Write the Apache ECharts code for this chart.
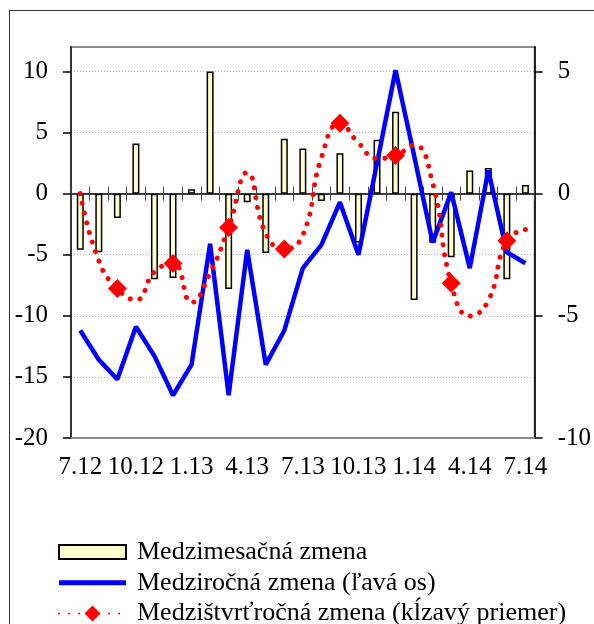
<!DOCTYPE html>
<html><head><meta charset="utf-8">
<script src="https://cdn.jsdelivr.net/npm/echarts@6/dist/echarts.min.js"></script>
<style>
html,body{margin:0;padding:0;background:#fff;overflow:hidden}
#c{width:594px;height:624px;position:absolute;left:0;top:0}
#frame{position:absolute;left:9px;top:10px;width:590px;height:620px;border-left:1px solid #333;border-top:1px solid #333;pointer-events:none}
</style>
</head><body><div id="c"></div><div id="frame"></div>
<script>
const categories = ['7.12','8.12','9.12','10.12','11.12','12.12','1.13','2.13','3.13','4.13','5.13','6.13','7.13','8.13','9.13','10.13','11.13','12.13','1.14','2.14','3.14','4.14','5.14','6.14','7.14'];
// Medzimesačná zmena (bars, left axis scale)
const momValues = [-4.6,-4.8,-2.0,4.1,-7.0,-6.9,0.35,10.0,-7.8,-0.7,-4.85,4.5,3.7,-0.6,3.3,-4.0,4.4,6.7,-8.7,-4.0,-5.2,1.9,2.1,-7.0,0.7];
// Medziročná zmena (ľavá os)
const yoyValues = [-11.2,-13.6,-15.2,-10.9,-13.3,-16.5,-14.0,-4.1,-16.5,-4.6,-14.0,-11.2,-6.1,-4.2,-0.7,-5.0,2.5,10.1,3.1,-4.0,0.1,-6.1,1.9,-4.8,-5.7];
// Medzištvrťročná zmena (kĺzavý priemer), right axis
const qoqValues = [0.0,-2.75,-3.88,-4.35,-3.2,-2.86,-4.45,-3.24,-1.39,0.86,-1.63,-2.27,-1.7,1.47,2.88,2.07,1.44,1.56,1.98,0.43,-3.67,-5.01,-4.38,-1.93,-1.47];
const leftTicks = [-20,-15,-10,-5,0,5,10];
const rightTicks = [-10,-5,0,5];

const names = ['Medzimesačná zmena','Medziročná zmena (ľavá os)','Medzištvrťročná zmena (kĺzavý priemer)'];
const FONT = 'Liberation Serif';
const chart = echarts.init(document.getElementById('c'), null, {renderer:'canvas'});
chart.setOption({
  animation:false,
  backgroundColor:'#fff',
  grid:{left:71,right:59,top:47,bottom:186,show:true,borderColor:'#8c8c8c',borderWidth:2,backgroundColor:'transparent'},
  legend:{
    orient:'vertical',left:58,top:539,height:120,padding:0,itemWidth:67,itemHeight:20,itemGap:4.8,
    symbolKeepAspect:true,
    textStyle:{fontFamily:FONT,fontSize:26,color:'#000',lineHeight:26,padding:[0,0,0,6]},
    data:[
      {name:names[0],icon:'path://M0,0 H67 V14 H0 Z'},
      {name:names[1],icon:'path://M0,0 H67 V5 H0 Z'},
      {name:names[2]}
    ]
  },
  xAxis:[
    {type:'category',data:categories,position:'bottom',boundaryGap:true,
     axisLine:{onZero:false,show:true,lineStyle:{color:'#8c8c8c',width:2}},
     axisTick:{show:false},
     axisLabel:{interval:2,margin:17,fontFamily:FONT,fontSize:25,color:'#000'},
     splitLine:{show:false}},
    {type:'category',data:categories,position:'bottom',boundaryGap:true,
     axisLine:{onZero:true,onZeroAxisIndex:0,show:true,lineStyle:{color:'#000',width:1.5}},
     axisTick:{show:true,interval:0,length:7,lineStyle:{color:'#444',width:1}},
     axisLabel:{show:false},splitLine:{show:false}},
    {type:'category',data:categories,position:'top',boundaryGap:true,
     axisLine:{onZero:true,onZeroAxisIndex:1,show:false},
     axisTick:{show:true,interval:0,length:7,lineStyle:{color:'#444',width:1}},
     axisLabel:{show:false},splitLine:{show:false}}
  ],
  yAxis:[
    {type:'value',min:-20,max:12,interval:5,position:'left',
     axisLine:{show:true,onZero:false,lineStyle:{color:'#333',width:2}},
     axisTick:{show:true,length:8,customValues:leftTicks,lineStyle:{color:'#000',width:1.5}},
     axisLabel:{customValues:leftTicks,margin:23,fontFamily:FONT,fontSize:25,color:'#000'},
     splitLine:{show:true,lineStyle:{color:'#b4b4b4',type:[1,2],width:1}}},
    {type:'value',min:-10,max:6,interval:5,position:'right',
     axisLine:{show:true,onZero:false,lineStyle:{color:'#222',width:2}},
     axisTick:{show:true,length:8,customValues:rightTicks,lineStyle:{color:'#000',width:1.5}},
     axisLabel:{customValues:rightTicks,margin:23,fontFamily:FONT,fontSize:25,color:'#000'},
     splitLine:{show:false}}
  ],
  series:[
    {name:names[0],type:'bar',xAxisIndex:0,yAxisIndex:0,data:momValues,barWidth:7,
     itemStyle:{color:'#FFFFCC',borderColor:'#000',borderWidth:1.5},z:2},
    {name:names[1],type:'line',xAxisIndex:0,yAxisIndex:0,data:yoyValues,symbol:'none',
     color:'#0000FF',lineStyle:{color:'#0000FF',width:4.5},z:3},
    {name:names[2],type:'line',xAxisIndex:0,yAxisIndex:1,data:qoqValues,smooth:0.5,
     symbol:'diamond',showSymbol:true,showAllSymbol:true,
     symbolSize:function(v,p){return p.dataIndex%3===2?19:0;},
     color:'#FF0000',itemStyle:{color:'#FF0000'},
     lineStyle:{color:'#FF0000',width:5,type:[0.01,10],cap:'round'},z:4}
  ]
});
</script>
</body></html>
